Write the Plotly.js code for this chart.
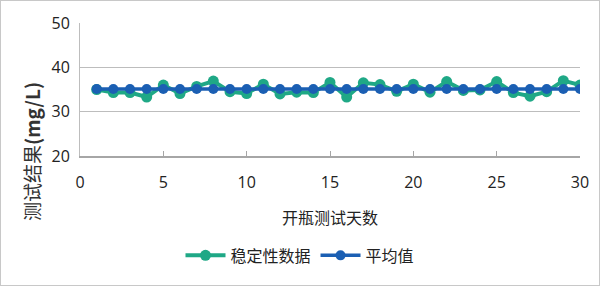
<!DOCTYPE html>
<html><head><meta charset="utf-8">
<script src="https://cdn.plot.ly/plotly-3.0.1.min.js"></script>
<style>html,body{margin:0;padding:0;background:#fff}#chart{width:598px;height:284px;border:1px solid #c8c8c8}</style>
</head><body><div id="chart"></div>
<script>
const days = [1,2,3,4,5,6,7,8,9,10,11,12,13,14,15,16,17,18,19,20,21,22,23,24,25,26,27,28,29,30];
const stability = [35.0,34.3,34.3,33.3,36.0,34.1,35.7,36.9,34.5,34.1,36.2,34.0,34.4,34.3,36.6,33.3,36.5,36.1,34.6,36.2,34.4,36.8,34.8,34.9,36.8,34.3,33.5,34.5,37.0,36.0];
const average = [35.1,35.1,35.1,35.1,35.1,35.1,35.1,35.1,35.1,35.1,35.1,35.1,35.1,35.1,35.1,35.1,35.1,35.1,35.1,35.1,35.1,35.1,35.1,35.1,35.1,35.1,35.1,35.1,35.1,35.1];
const seriesNames = ['稳定性数据','平均值'];
const xTitle = '开瓶测试天数';
const yTitle = '测试结果<b>(mg/L)</b>';
const green = '#1fa886', blue = '#1b5fb3';
const cjk = '"Noto Sans CJK SC", sans-serif';
const data = [
  {x: days, y: stability, name: seriesNames[0], mode: 'lines+markers', type: 'scatter',
   line: {color: green, width: 4}, marker: {color: green, size: 11}},
  {x: days, y: average, name: seriesNames[1], mode: 'lines+markers', type: 'scatter',
   line: {color: blue, width: 3.5}, marker: {color: blue, size: 10}}
];
const layout = {
  width: 598, height: 284,
  margin: {l: 79, r: 19, t: 22, b: 124},
  paper_bgcolor: '#fff', plot_bgcolor: '#fff',
  font: {family: '"Open Sans", sans-serif', color: '#333', size: 15},
  xaxis: {range: [0, 30], dtick: 5, tick0: 0, showgrid: false, zeroline: false,
    showline: true, linecolor: '#a6a6a6', linewidth: 1.5, ticks: 'inside', ticklen: 5, tickcolor: '#a6a6a6',
    ticklabelstandoff: 11,
    tickfont: {size: 16, color: '#222'},
    title: {text: xTitle, font: {family: cjk, size: 16, color: '#222'}, standoff: 21}},
  yaxis: {range: [20, 50], dtick: 10, showgrid: true, gridcolor: '#bdbdbd', gridwidth: 1.2, zeroline: false,
    showline: true, linecolor: '#bdbdbd', linewidth: 1, ticks: '', ticklabelstandoff: 6,
    tickfont: {size: 16, color: '#222'}},
  annotations: [{text: yTitle, xref: 'paper', yref: 'paper', x: -0.098, y: 0.03, xanchor: 'center', yanchor: 'middle',
    textangle: -90, showarrow: false, font: {family: cjk, size: 19, color: '#333'}}],
  showlegend: true,
  legend: {orientation: 'h', x: 0.44, xanchor: 'center', y: -0.62, yanchor: 'top',
    font: {family: cjk, size: 16, color: '#222'}, itemwidth: 40, traceorder: 'normal'}
};
Plotly.newPlot('chart', data, layout, {displayModeBar: false, staticPlot: true});
</script></body></html>
